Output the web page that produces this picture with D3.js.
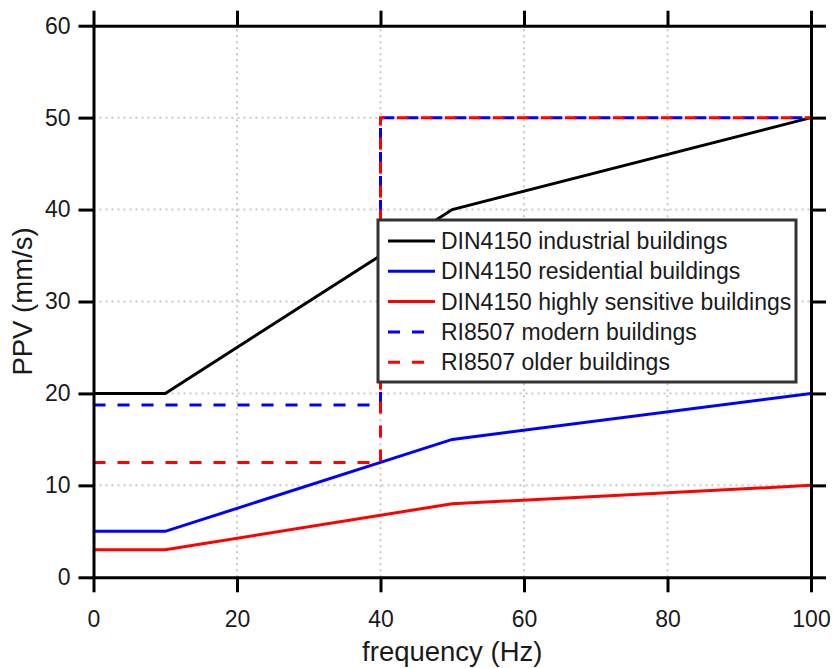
<!DOCTYPE html>
<html>
<head>
<meta charset="utf-8">
<script src="https://cdn.jsdelivr.net/npm/d3@7"></script>
<style>
  body { margin: 0; background: #fff; }
  svg { font-family: 'Liberation Sans', Arial, sans-serif; }
</style>
</head>
<body>
<svg id="chart" width="835" height="668"></svg>
<script>
// data
var freq = [0, 10, 50, 100];
var industrial = [20, 20, 40, 50];
var residential = [5, 5, 15, 20];
var sensitive = [3, 3, 8, 10];

var riFreq = [0, 40, 40, 100];
var riModern = [18.75, 18.75, 50, 50];
var riOlder = [12.5, 12.5, 50, 50];

var xTicks = [0, 20, 40, 60, 80, 100];
var yTicks = [0, 10, 20, 30, 40, 50, 60];

var series = [
  {name: 'DIN4150 industrial buildings', x: freq, y: industrial, color: '#000000', dash: null},
  {name: 'DIN4150 residential buildings', x: freq, y: residential, color: '#0000ff', dash: null},
  {name: 'DIN4150 highly sensitive buildings', x: freq, y: sensitive, color: '#ff0000', dash: null},
  {name: 'RI8507 modern buildings', x: riFreq, y: riModern, color: '#0000ff', dash: '12,12'},
  {name: 'RI8507 older buildings', x: riFreq, y: riOlder, color: '#ff0000', dash: '12,12'}
];

var margin = {left: 93.5, right: 24, top: 25.7, bottom: 90.7};
var width = 835, height = 668;

var svg = d3.select('#chart');

var x = d3.scaleLinear().domain([0, 100]).range([margin.left, width - margin.right]);
var y = d3.scaleLinear().domain([0, 60]).range([height - margin.bottom, margin.top]);

// grid
var grid = svg.append('g');
grid.selectAll('.gx')
  .data(xTicks.slice(1, -1))
  .enter()
  .append('line')
  .attr('x1', function (d) { return x(d); })
  .attr('x2', function (d) { return x(d); })
  .attr('y1', y(0))
  .attr('y2', y(60))
  .attr('stroke', '#c8c8c8')
  .attr('stroke-width', 2)
  .attr('stroke-dasharray', '2,4');
grid.selectAll('.gy')
  .data(yTicks.slice(1, -1))
  .enter()
  .append('line')
  .attr('x1', x(0))
  .attr('x2', x(100))
  .attr('y1', function (d) { return y(d); })
  .attr('y2', function (d) { return y(d); })
  .attr('stroke', '#c8c8c8')
  .attr('stroke-width', 2)
  .attr('stroke-dasharray', '2,4');

// data lines
var line = d3.line()
  .x(function (d) { return x(d[0]); })
  .y(function (d) { return y(d[1]); });

svg.append('g').selectAll('path')
  .data(series)
  .enter()
  .append('path')
  .attr('d', function (s) { return line(d3.zip(s.x, s.y)); })
  .attr('fill', 'none')
  .attr('stroke', function (s) { return s.color; })
  .attr('stroke-width', 3)
  .attr('stroke-dasharray', function (s) { return s.dash; });

// axes: ticks point outwards on all four sides
var tickLen = 15;
var axisStyle = function (g) {
  g.attr('font-size', null).attr('font-family', null);
  g.select('.domain').attr('stroke-width', 3).attr('stroke', '#000');
  g.selectAll('.tick line').attr('stroke-width', 3).attr('stroke', '#000');
  g.selectAll('.tick text').attr('font-size', 23).attr('fill', '#1a1a1a');
};

svg.append('g')
  .attr('transform', 'translate(0,' + y(0) + ')')
  .call(d3.axisBottom(x).tickValues(xTicks).tickSize(tickLen).tickSizeOuter(0).tickPadding(18))
  .call(axisStyle);
svg.append('g')
  .attr('transform', 'translate(0,' + y(60) + ')')
  .call(d3.axisTop(x).tickValues(xTicks).tickSize(tickLen).tickSizeOuter(0).tickFormat(''))
  .call(axisStyle);
svg.append('g')
  .attr('transform', 'translate(' + x(0) + ',0)')
  .call(d3.axisLeft(y).tickValues(yTicks).tickSize(tickLen).tickSizeOuter(0).tickPadding(8))
  .call(axisStyle);
svg.append('g')
  .attr('transform', 'translate(' + x(100) + ',0)')
  .call(d3.axisRight(y).tickValues(yTicks).tickSize(tickLen).tickSizeOuter(0).tickFormat(''))
  .call(axisStyle);

// axis labels
svg.append('text')
  .attr('x', (x(0) + x(100)) / 2)
  .attr('y', 661)
  .attr('text-anchor', 'middle')
  .attr('font-size', 27.5)
  .attr('fill', '#1a1a1a')
  .text('frequency (Hz)');
svg.append('text')
  .attr('transform', 'translate(32,' + y(30) + ') rotate(-90)')
  .attr('text-anchor', 'middle')
  .attr('font-size', 27.5)
  .attr('fill', '#1a1a1a')
  .text('PPV (mm/s)');

// legend
var lg = svg.append('g').attr('transform', 'translate(378,220)');
lg.append('rect')
  .attr('width', 418)
  .attr('height', 162)
  .attr('fill', '#fff')
  .attr('stroke', '#333')
  .attr('stroke-width', 3);
var rows = lg.selectAll('.row')
  .data(series)
  .enter()
  .append('g')
  .attr('transform', function (d, i) { return 'translate(0,' + (21 + i * 30.3) + ')'; });
rows.append('line')
  .attr('x1', 10)
  .attr('x2', 57)
  .attr('stroke', function (s) { return s.color; })
  .attr('stroke-width', 3)
  .attr('stroke-dasharray', function (s) { return s.dash; });
rows.append('text')
  .attr('x', 63)
  .attr('dy', '0.35em')
  .attr('font-size', 23)
  .attr('fill', '#1a1a1a')
  .text(function (s) { return s.name; });
</script>
</body>
</html>
